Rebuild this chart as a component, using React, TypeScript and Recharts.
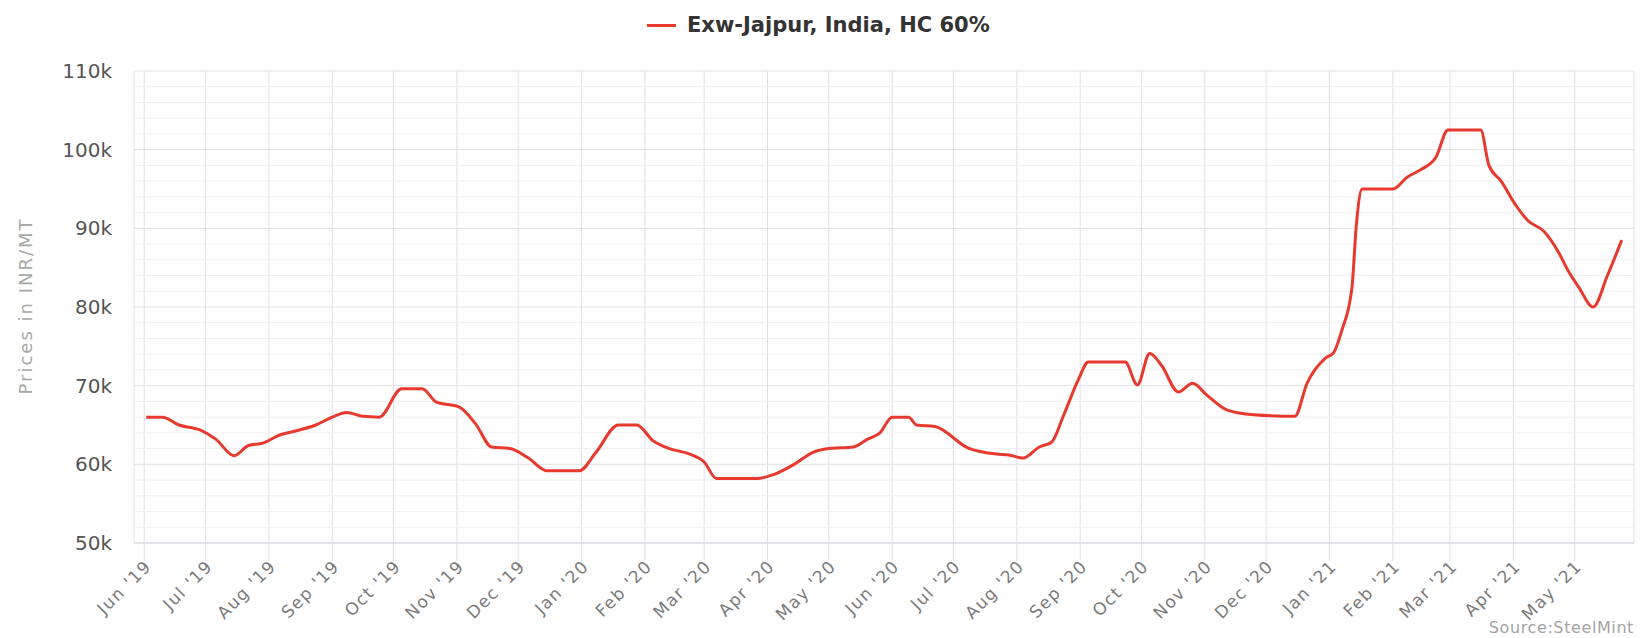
import React from "react";
import { LineChart, Line, XAxis, YAxis, CartesianGrid, ReferenceLine } from "recharts";

const dates = [
  "2019-06-02", "2019-06-10", "2019-06-18", "2019-06-28", "2019-07-06", "2019-07-15",
  "2019-07-22", "2019-07-29", "2019-08-06", "2019-08-15", "2019-08-24", "2019-09-01",
  "2019-09-08", "2019-09-16", "2019-09-24", "2019-10-05", "2019-10-15", "2019-10-22",
  "2019-11-02", "2019-11-10", "2019-11-18", "2019-11-27", "2019-12-06", "2019-12-15",
  "2019-12-31", "2020-01-08", "2020-01-19", "2020-01-28", "2020-02-05", "2020-02-13",
  "2020-02-23", "2020-03-01", "2020-03-07", "2020-03-27", "2020-04-04", "2020-04-14",
  "2020-04-23", "2020-05-01", "2020-05-13", "2020-05-20", "2020-05-26", "2020-06-01",
  "2020-06-09", "2020-06-13", "2020-06-22", "2020-07-08", "2020-07-22", "2020-07-28",
  "2020-08-04", "2020-08-12", "2020-08-18", "2020-08-24", "2020-08-31", "2020-09-05",
  "2020-09-23", "2020-09-29", "2020-10-05", "2020-10-11", "2020-10-19", "2020-10-26",
  "2020-11-02", "2020-11-12", "2020-11-25", "2020-12-15", "2020-12-21", "2020-12-30",
  "2021-01-03", "2021-01-07", "2021-01-12", "2021-01-14", "2021-01-17", "2021-02-01",
  "2021-02-08", "2021-02-15", "2021-02-22", "2021-02-28", "2021-03-16", "2021-03-20",
  "2021-03-26", "2021-04-02", "2021-04-08", "2021-04-16", "2021-04-23", "2021-04-28",
  "2021-05-03", "2021-05-10", "2021-05-17", "2021-05-24",
];

const prices = [
  66000, 66000, 65000, 64400, 63200, 61100,
  62400, 62700, 63700, 64300, 65000, 66000,
  66600, 66100, 66000, 69600, 69600, 67900,
  67300, 65200, 62200, 62000, 60800, 59200,
  59200, 61500, 65000, 65000, 63000, 62000,
  61300, 60300, 58200, 58200, 58700, 60000,
  61500, 62000, 62200, 63200, 64000, 66000,
  66000, 65000, 64800, 62100, 61300, 61200,
  60800, 62200, 62800, 66300, 70700, 73000,
  73000, 70100, 74100, 72500, 69200, 70300,
  68800, 66900, 66300, 66100, 70300, 73500,
  74200, 77000, 82500, 90000, 95000, 95000,
  96500, 97500, 99000, 102500, 102500, 98000,
  96000, 93000, 91000, 89600, 87000, 84500,
  82500, 80000, 84000, 88500,
];

const monthStarts = [
  "2019-06-01", "2019-07-01", "2019-08-01", "2019-09-01", "2019-10-01", "2019-11-01",
  "2019-12-01", "2020-01-01", "2020-02-01", "2020-03-01", "2020-04-01", "2020-05-01",
  "2020-06-01", "2020-07-01", "2020-08-01", "2020-09-01", "2020-10-01", "2020-11-01",
  "2020-12-01", "2021-01-01", "2021-02-01", "2021-03-01", "2021-04-01", "2021-05-01",
];

const monthLabels = [
  "Jun '19", "Jul '19", "Aug '19", "Sep '19", "Oct '19", "Nov '19",
  "Dec '19", "Jan '20", "Feb '20", "Mar '20", "Apr '20", "May '20",
  "Jun '20", "Jul '20", "Aug '20", "Sep '20", "Oct '20", "Nov '20",
  "Dec '20", "Jan '21", "Feb '21", "Mar '21", "Apr '21", "May '21",
];

const yTicks = [50000, 60000, 70000, 80000, 90000, 100000, 110000];
const yMinor = [
  52000, 54000, 56000, 58000, 62000, 64000, 66000, 68000, 72000, 74000, 76000, 78000,
  82000, 84000, 86000, 88000, 92000, 94000, 96000, 98000, 102000, 104000, 106000, 108000,
];

const FONT = "'DejaVu Sans', sans-serif";
const RED = "#e8392e";

const toDay = (d: string) => (Date.parse(d) - Date.parse("2019-06-01")) / 86400000;

const data = dates.map((d, i) => ({ day: toDay(d), price: prices[i] }));
const xTicks = monthStarts.map(toDay);

const XTick = (props: any) => {
  const { x, y, payload } = props;
  const idx = xTicks.indexOf(payload.value);
  return (
    <text
      x={x + 4}
      y={y}
      dy={6}
      transform={`rotate(-45 ${x + 4} ${y})`}
      textAnchor="end"
      fill="#7a7a7a"
      fontSize={17}
      fontFamily={FONT}
      letterSpacing={1.4}
    >
      {monthLabels[idx]}
    </text>
  );
};

export default function App() {
  return (
    <div style={{ position: "absolute", left: 0, top: 0, width: 1646, height: 638, background: "#fff" }}>
      <div style={{ position: "absolute", left: 647, top: 24, width: 29, height: 3, background: RED }} />
      <div
        style={{
          position: "absolute", left: 687, top: 12, lineHeight: "26px", fontFamily: FONT,
          fontWeight: "bold", fontSize: 21, color: "#333", whiteSpace: "nowrap",
        }}
      >
        Exw-Jajpur, India, HC 60%
      </div>
      <div
        style={{
          position: "absolute", left: 25, top: 306, transform: "translate(-50%, -50%) rotate(-90deg)",
          fontFamily: FONT, fontSize: 18, color: "#a8a8a8", whiteSpace: "nowrap", letterSpacing: 2,
        }}
      >
        Prices in INR/MT
      </div>
      <div
        style={{
          position: "absolute", right: 12, top: 618, fontFamily: FONT, fontSize: 16,
          color: "#a4a4a4", whiteSpace: "nowrap", letterSpacing: 0.6,
        }}
      >
        Source:SteelMint
      </div>
      <LineChart width={1646} height={638} data={data} margin={{ top: 71, right: 12, bottom: 0, left: 0 }}>
        <CartesianGrid horizontal={false} vertical stroke="#dfdfe8" />
        {yMinor.map((v) => (
          <ReferenceLine key={v} y={v} stroke="#f0f0f0" strokeWidth={1} />
        ))}
        <CartesianGrid horizontal vertical={false} stroke="#e2e2e2" />
        <XAxis
          dataKey="day"
          type="number"
          domain={[-5, 729]}
          ticks={xTicks}
          interval={0}
          height={95}
          tickSize={18}
          tickMargin={2}
          tickLine={{ stroke: "#dfdfe8" }}
          axisLine={{ stroke: "#d4d4e2" }}
          tick={<XTick />}
        />
        <YAxis
          domain={[50000, 110000]}
          ticks={yTicks}
          width={134}
          tickSize={0}
          tickMargin={22}
          axisLine={false}
          tickLine={false}
          tickFormatter={(v: number) => `${v / 1000}k`}
          tick={{ fill: "#555", fontSize: 20, fontFamily: FONT }}
        />
        <Line
          type="monotone"
          dataKey="price"
          stroke={RED}
          strokeWidth={3}
          dot={false}
          isAnimationActive={false}
        />
      </LineChart>
    </div>
  );
}
